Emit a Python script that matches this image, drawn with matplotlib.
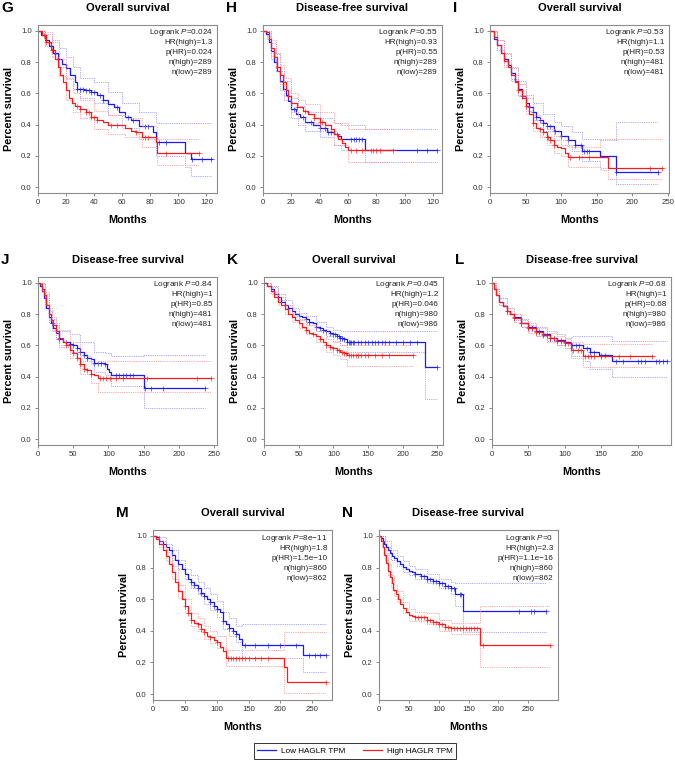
import numpy as np
import matplotlib
matplotlib.use('Agg')
import matplotlib.pyplot as plt
from matplotlib.lines import Line2D

plt.rcParams.update({
    'font.family': 'Liberation Sans',
    'mathtext.fontset': 'custom',
    'mathtext.rm': 'Liberation Sans',
    'mathtext.it': 'Liberation Sans:italic',
})

BLUE = '#1a1aff'
RED = '#ff1a1a'
BLUE_CI = '#8a8aff'
RED_CI = '#ff8a8a'

# ---------------- G : overall survival ----------------
G_low_t = [0, 2, 5, 8, 11, 14, 17, 20, 23, 26, 28, 33, 38, 42, 46, 50, 54, 58, 62, 66, 72, 80, 82, 84, 105, 109, 124]
G_low_s = [1.0, 0.97, 0.94, 0.90, 0.86, 0.82, 0.79, 0.76, 0.72, 0.67, 0.63, 0.62, 0.61, 0.59, 0.56, 0.53, 0.51, 0.48, 0.45, 0.43, 0.39, 0.39, 0.35, 0.29, 0.22, 0.18, 0.18]
G_low_cens = [28, 30, 32, 34, 36, 38, 40, 44, 46, 56, 64, 68, 76, 78, 86, 91, 110, 117, 123]
G_low_ci_t = [0, 5, 10, 15, 20, 25, 30, 40, 50, 60, 72, 84, 105, 109, 124]
G_low_up = [1.0, 0.98, 0.94, 0.89, 0.83, 0.77, 0.70, 0.67, 0.61, 0.54, 0.48, 0.41, 0.41, 0.41, 0.41]
G_low_lo = [1.0, 0.90, 0.85, 0.77, 0.70, 0.63, 0.57, 0.54, 0.46, 0.38, 0.31, 0.20, 0.13, 0.07, 0.07]
G_high_t = [0, 3, 6, 9, 12, 14, 16, 18, 20, 22, 24, 26, 30, 34, 38, 42, 46, 50, 56, 62, 66, 70, 74, 80, 84, 85, 115]
G_high_s = [1.0, 0.97, 0.93, 0.88, 0.82, 0.77, 0.72, 0.67, 0.62, 0.57, 0.54, 0.52, 0.50, 0.48, 0.45, 0.43, 0.42, 0.40, 0.40, 0.38, 0.36, 0.35, 0.32, 0.32, 0.29, 0.22, 0.22]
G_high_cens = [4, 6, 10, 28, 30, 34, 36, 38, 40, 42, 52, 56, 70, 76, 78, 91, 115]
G_high_ci_t = [0, 5, 10, 15, 20, 25, 30, 40, 50, 62, 74, 85, 115]
G_high_up = [1.0, 0.99, 0.93, 0.82, 0.69, 0.60, 0.56, 0.49, 0.46, 0.44, 0.39, 0.31, 0.31]
G_high_lo = [1.0, 0.93, 0.83, 0.71, 0.56, 0.48, 0.44, 0.37, 0.34, 0.32, 0.26, 0.14, 0.14]
G_stats = ['0.024', '1.3', '0.024', '289', '289']

# ---------------- H : disease-free survival ----------------
H_low_t = [0, 2, 4, 6, 8, 10, 12, 14, 16, 18, 20, 23, 26, 30, 35, 40, 45, 50, 53, 55, 72, 123]
H_low_s = [1.0, 0.98, 0.93, 0.87, 0.80, 0.74, 0.68, 0.63, 0.59, 0.55, 0.50, 0.47, 0.45, 0.42, 0.40, 0.38, 0.35, 0.34, 0.33, 0.31, 0.24, 0.24]
H_low_cens = [22, 28, 34, 40, 44, 46, 48, 52, 62, 64, 66, 68, 70, 109, 116, 123]
H_low_ci_t = [0, 3, 6, 9, 12, 15, 20, 25, 30, 40, 50, 55, 72, 123]
H_low_up = [1.0, 1.0, 0.92, 0.86, 0.74, 0.68, 0.57, 0.52, 0.48, 0.44, 0.41, 0.40, 0.37, 0.37]
H_low_lo = [1.0, 0.95, 0.82, 0.74, 0.62, 0.56, 0.44, 0.40, 0.36, 0.32, 0.27, 0.24, 0.16, 0.16]
H_high_t = [0, 2, 4, 6, 8, 10, 12, 14, 16, 18, 20, 24, 28, 32, 36, 40, 44, 48, 50, 53, 56, 58, 60, 92]
H_high_s = [1.0, 0.99, 0.95, 0.89, 0.83, 0.77, 0.72, 0.67, 0.62, 0.58, 0.54, 0.51, 0.49, 0.47, 0.44, 0.42, 0.40, 0.37, 0.34, 0.31, 0.28, 0.26, 0.24, 0.24]
H_high_cens = [10, 14, 18, 24, 30, 36, 40, 42, 62, 66, 70, 76, 78, 80, 83, 92]
H_high_ci_t = [0, 3, 6, 9, 12, 15, 20, 25, 30, 40, 50, 60, 92]
H_high_up = [1.0, 1.0, 0.94, 0.85, 0.78, 0.70, 0.60, 0.56, 0.53, 0.48, 0.41, 0.37, 0.37]
H_high_lo = [1.0, 0.96, 0.84, 0.74, 0.66, 0.58, 0.48, 0.44, 0.41, 0.36, 0.27, 0.16, 0.16]
H_stats = ['0.55', '0.93', '0.55', '289', '289']

# ---------------- I : overall survival ----------------
I_low_t = [0, 5, 10, 15, 20, 25, 30, 35, 40, 45, 50, 55, 60, 65, 70, 75, 80, 90, 100, 110, 120, 130, 155, 177, 236]
I_low_s = [1.0, 0.95, 0.91, 0.86, 0.82, 0.78, 0.73, 0.68, 0.63, 0.58, 0.54, 0.51, 0.48, 0.45, 0.43, 0.41, 0.39, 0.36, 0.33, 0.30, 0.27, 0.23, 0.20, 0.095, 0.095]
I_low_cens = [45, 55, 60, 65, 70, 75, 80, 85, 92, 100, 110, 120, 128, 132, 136, 140, 177, 236]
I_low_ci_t = [0, 10, 20, 30, 40, 50, 60, 75, 90, 100, 115, 130, 155, 177, 236]
I_low_up = [1.0, 0.94, 0.86, 0.77, 0.68, 0.59, 0.54, 0.47, 0.42, 0.39, 0.35, 0.31, 0.30, 0.42, 0.42]
I_low_lo = [1.0, 0.88, 0.78, 0.69, 0.59, 0.49, 0.43, 0.36, 0.30, 0.27, 0.23, 0.17, 0.12, 0.02, 0.02]
I_high_t = [0, 5, 10, 15, 20, 25, 30, 35, 40, 45, 50, 55, 60, 65, 70, 75, 80, 85, 90, 95, 100, 105, 110, 166, 242]
I_high_s = [1.0, 0.96, 0.91, 0.86, 0.81, 0.77, 0.72, 0.67, 0.62, 0.57, 0.52, 0.47, 0.41, 0.38, 0.37, 0.35, 0.32, 0.30, 0.27, 0.26, 0.25, 0.22, 0.19, 0.125, 0.125]
I_high_cens = [40, 50, 60, 70, 75, 80, 82, 85, 90, 112, 125, 140, 225, 242]
I_high_ci_t = [0, 10, 20, 30, 40, 50, 60, 70, 80, 90, 100, 110, 155, 166, 242]
I_high_up = [1.0, 0.94, 0.85, 0.76, 0.66, 0.57, 0.46, 0.42, 0.37, 0.33, 0.30, 0.26, 0.31, 0.31, 0.31]
I_high_lo = [1.0, 0.88, 0.77, 0.68, 0.58, 0.47, 0.36, 0.32, 0.27, 0.22, 0.20, 0.13, 0.11, 0.05, 0.05]
I_stats = ['0.53', '1.1', '0.53', '481', '481']

# ---------------- J : disease-free survival ----------------
J_low_t = [0, 3, 6, 9, 12, 15, 18, 21, 25, 30, 35, 45, 50, 55, 60, 65, 70, 75, 80, 95, 98, 101, 103, 150, 237]
J_low_s = [1.0, 0.98, 0.95, 0.90, 0.84, 0.78, 0.74, 0.71, 0.68, 0.64, 0.62, 0.61, 0.60, 0.58, 0.56, 0.54, 0.52, 0.51, 0.49, 0.48, 0.45, 0.43, 0.41, 0.33, 0.33]
J_low_cens = [20, 30, 40, 45, 50, 55, 60, 65, 70, 80, 85, 90, 95, 110, 115, 120, 125, 130, 135, 152, 160, 178, 237]
J_low_ci_t = [0, 5, 10, 15, 20, 25, 30, 45, 60, 80, 95, 103, 150, 237]
J_low_up = [1.0, 1.0, 0.93, 0.82, 0.77, 0.73, 0.69, 0.67, 0.62, 0.56, 0.55, 0.53, 0.54, 0.54]
J_low_lo = [1.0, 0.94, 0.84, 0.74, 0.69, 0.64, 0.59, 0.56, 0.50, 0.43, 0.41, 0.34, 0.20, 0.20]
J_high_t = [0, 3, 6, 9, 12, 15, 18, 21, 25, 30, 35, 40, 45, 50, 55, 60, 65, 70, 75, 80, 85, 245]
J_high_s = [1.0, 0.99, 0.96, 0.92, 0.86, 0.80, 0.76, 0.73, 0.69, 0.65, 0.62, 0.60, 0.57, 0.55, 0.52, 0.48, 0.45, 0.44, 0.42, 0.41, 0.39, 0.39]
J_high_cens = [30, 40, 50, 55, 60, 65, 70, 75, 88, 92, 96, 102, 110, 120, 155, 225, 245]
J_high_ci_t = [0, 5, 10, 15, 20, 25, 30, 45, 60, 75, 85, 245]
J_high_up = [1.0, 1.0, 0.94, 0.84, 0.78, 0.74, 0.70, 0.62, 0.53, 0.48, 0.50, 0.50]
J_high_lo = [1.0, 0.95, 0.86, 0.76, 0.70, 0.65, 0.60, 0.52, 0.42, 0.36, 0.30, 0.30]
J_stats = ['0.84', '1', '0.85', '481', '481']

# ---------------- K : overall survival ----------------
K_low_t = [0, 5, 10, 15, 20, 25, 30, 35, 40, 45, 50, 55, 60, 65, 70, 75, 80, 85, 90, 95, 100, 105, 110, 115, 120, 232, 249]
K_low_s = [1.0, 0.98, 0.96, 0.93, 0.91, 0.88, 0.86, 0.84, 0.82, 0.80, 0.79, 0.78, 0.77, 0.75, 0.74, 0.72, 0.71, 0.70, 0.69, 0.68, 0.67, 0.66, 0.65, 0.64, 0.62, 0.46, 0.46]
K_low_cens = [60, 65, 75, 80, 85, 90, 95, 100, 102, 105, 108, 110, 112, 115, 120, 122, 124, 126, 128, 130, 135, 140, 145, 150, 155, 160, 165, 170, 175, 180, 190, 200, 210, 220, 249]
K_low_ci_t = [0, 10, 20, 30, 40, 50, 60, 75, 90, 100, 110, 120, 232, 249]
K_low_up = [1.0, 0.98, 0.93, 0.89, 0.84, 0.81, 0.79, 0.75, 0.72, 0.70, 0.69, 0.69, 0.69, 0.69]
K_low_lo = [1.0, 0.94, 0.89, 0.84, 0.79, 0.76, 0.74, 0.69, 0.66, 0.63, 0.60, 0.56, 0.26, 0.26]
K_high_t = [0, 5, 10, 15, 20, 25, 30, 35, 40, 45, 50, 55, 60, 65, 70, 75, 80, 85, 90, 95, 100, 105, 110, 115, 120, 215]
K_high_s = [1.0, 0.98, 0.95, 0.91, 0.88, 0.86, 0.83, 0.80, 0.78, 0.76, 0.74, 0.72, 0.70, 0.68, 0.67, 0.66, 0.64, 0.62, 0.60, 0.59, 0.58, 0.57, 0.56, 0.55, 0.54, 0.54]
K_high_cens = [60, 70, 80, 90, 95, 100, 105, 108, 112, 115, 118, 122, 125, 128, 132, 136, 140, 145, 150, 160, 170, 180, 215]
K_high_ci_t = [0, 10, 20, 30, 40, 50, 60, 75, 90, 100, 110, 120, 215]
K_high_up = [1.0, 0.97, 0.91, 0.86, 0.81, 0.77, 0.73, 0.69, 0.64, 0.62, 0.60, 0.60, 0.60]
K_high_lo = [1.0, 0.93, 0.86, 0.80, 0.75, 0.71, 0.67, 0.62, 0.56, 0.54, 0.51, 0.47, 0.47]
K_stats = ['0.045', '1.2', '0.046', '980', '986']

# ---------------- L : disease-free survival ----------------
L_low_t = [0, 3, 6, 10, 15, 20, 25, 30, 40, 50, 60, 70, 80, 90, 100, 108, 125, 135, 147, 165, 240]
L_low_s = [1.0, 0.96, 0.92, 0.88, 0.85, 0.82, 0.80, 0.78, 0.745, 0.715, 0.69, 0.67, 0.65, 0.635, 0.62, 0.60, 0.58, 0.56, 0.54, 0.50, 0.50]
L_low_cens = [20, 30, 40, 50, 55, 60, 65, 70, 75, 80, 85, 90, 95, 100, 110, 115, 120, 130, 135, 140, 150, 155, 170, 180, 200, 205, 210, 225, 230, 235, 240]
L_low_ci_t = [0, 5, 10, 20, 30, 40, 50, 60, 75, 90, 100, 110, 125, 135, 165, 240]
L_low_up = [1.0, 0.96, 0.90, 0.84, 0.80, 0.77, 0.74, 0.72, 0.69, 0.67, 0.65, 0.66, 0.66, 0.66, 0.63, 0.63]
L_low_lo = [1.0, 0.92, 0.86, 0.80, 0.76, 0.72, 0.69, 0.66, 0.63, 0.60, 0.58, 0.53, 0.50, 0.45, 0.40, 0.40]
L_high_t = [0, 3, 6, 10, 15, 20, 25, 30, 40, 50, 60, 70, 80, 90, 100, 108, 125, 220]
L_high_s = [1.0, 0.96, 0.92, 0.88, 0.85, 0.82, 0.80, 0.775, 0.74, 0.71, 0.685, 0.665, 0.645, 0.63, 0.615, 0.57, 0.535, 0.535]
L_high_cens = [20, 30, 40, 50, 55, 60, 65, 70, 75, 80, 85, 90, 95, 100, 105, 112, 118, 122, 128, 132, 136, 140, 150, 175, 190, 220]
L_high_ci_t = [0, 5, 10, 20, 30, 40, 50, 60, 75, 90, 100, 108, 125, 220]
L_high_up = [1.0, 0.96, 0.90, 0.84, 0.80, 0.76, 0.73, 0.71, 0.68, 0.66, 0.64, 0.62, 0.61, 0.61]
L_high_lo = [1.0, 0.92, 0.86, 0.80, 0.75, 0.72, 0.68, 0.66, 0.62, 0.60, 0.58, 0.52, 0.46, 0.46]
L_stats = ['0.68', '1', '0.68', '980', '986']

# ---------------- M : overall survival ----------------
M_low_t = [0, 5, 10, 15, 20, 25, 30, 35, 40, 45, 50, 55, 60, 65, 70, 75, 80, 85, 90, 95, 100, 105, 110, 115, 120, 125, 130, 135, 140, 235, 272]
M_low_s = [1.0, 0.99, 0.97, 0.95, 0.93, 0.91, 0.88, 0.85, 0.82, 0.79, 0.76, 0.73, 0.71, 0.69, 0.67, 0.64, 0.62, 0.60, 0.58, 0.56, 0.54, 0.52, 0.46, 0.44, 0.42, 0.40, 0.38, 0.35, 0.31, 0.25, 0.25]
M_low_cens = [60, 65, 70, 75, 80, 90, 95, 100, 110, 120, 125, 130, 145, 160, 180, 200, 225, 245, 255, 262, 272]
M_low_ci_t = [0, 10, 20, 30, 40, 50, 60, 70, 80, 90, 100, 110, 120, 130, 140, 235, 272]
M_low_up = [1.0, 0.99, 0.95, 0.91, 0.85, 0.79, 0.75, 0.71, 0.67, 0.63, 0.59, 0.52, 0.48, 0.43, 0.44, 0.44, 0.44]
M_low_lo = [1.0, 0.95, 0.91, 0.85, 0.79, 0.73, 0.67, 0.63, 0.57, 0.53, 0.49, 0.41, 0.37, 0.33, 0.23, 0.14, 0.14]
M_high_t = [0, 5, 10, 15, 20, 25, 30, 35, 40, 45, 50, 55, 60, 65, 70, 75, 80, 85, 90, 95, 100, 105, 110, 115, 205, 210, 271]
M_high_s = [1.0, 0.98, 0.95, 0.91, 0.87, 0.82, 0.77, 0.71, 0.65, 0.60, 0.56, 0.51, 0.47, 0.45, 0.44, 0.41, 0.39, 0.37, 0.36, 0.34, 0.33, 0.30, 0.27, 0.23, 0.17, 0.075, 0.075]
M_high_cens = [50, 55, 60, 70, 75, 80, 90, 100, 118, 122, 126, 130, 135, 140, 145, 150, 160, 170, 180, 271]
M_high_ci_t = [0, 10, 20, 30, 40, 50, 60, 70, 80, 90, 100, 115, 205, 271]
M_high_up = [1.0, 0.97, 0.90, 0.81, 0.69, 0.60, 0.51, 0.48, 0.43, 0.40, 0.37, 0.28, 0.39, 0.39]
M_high_lo = [1.0, 0.93, 0.84, 0.73, 0.61, 0.51, 0.43, 0.40, 0.35, 0.32, 0.29, 0.18, 0.01, 0.01]
M_stats = ['8e\u221211', '1.8', '1.5e\u221210', '860', '862']

# ---------------- N : disease-free survival ----------------
N_low_t = [0, 3, 6, 9, 12, 15, 18, 21, 25, 30, 35, 40, 45, 50, 55, 60, 70, 80, 90, 100, 110, 120, 128, 140, 280]
N_low_s = [1.0, 0.985, 0.97, 0.95, 0.93, 0.91, 0.89, 0.875, 0.86, 0.84, 0.82, 0.805, 0.79, 0.78, 0.77, 0.76, 0.745, 0.73, 0.715, 0.70, 0.685, 0.67, 0.63, 0.525, 0.525]
N_low_cens = [60, 70, 75, 80, 85, 90, 95, 100, 105, 110, 115, 120, 125, 135, 138, 235, 255, 260, 280]
N_low_ci_t = [0, 10, 20, 30, 40, 50, 60, 80, 100, 120, 128, 140, 280]
N_low_up = [1.0, 0.97, 0.91, 0.87, 0.84, 0.81, 0.79, 0.76, 0.73, 0.71, 0.70, 0.70, 0.70]
N_low_lo = [1.0, 0.93, 0.85, 0.81, 0.77, 0.75, 0.73, 0.70, 0.67, 0.63, 0.56, 0.39, 0.39]
N_high_t = [0, 3, 6, 9, 12, 15, 18, 21, 24, 28, 32, 36, 40, 45, 50, 55, 60, 70, 80, 90, 100, 110, 120, 170, 286]
N_high_s = [1.0, 0.97, 0.93, 0.88, 0.83, 0.78, 0.74, 0.70, 0.66, 0.63, 0.60, 0.57, 0.545, 0.52, 0.50, 0.495, 0.49, 0.485, 0.47, 0.455, 0.44, 0.425, 0.415, 0.31, 0.31]
N_high_cens = [60, 65, 70, 75, 80, 85, 90, 95, 100, 105, 110, 115, 120, 125, 130, 135, 140, 145, 150, 155, 160, 165, 175, 286]
N_high_ci_t = [0, 5, 10, 15, 20, 25, 30, 40, 50, 60, 80, 100, 120, 170, 286]
N_high_up = [1.0, 0.97, 0.91, 0.82, 0.75, 0.69, 0.65, 0.58, 0.54, 0.52, 0.51, 0.47, 0.45, 0.56, 0.56]
N_high_lo = [1.0, 0.93, 0.85, 0.75, 0.68, 0.62, 0.58, 0.51, 0.46, 0.46, 0.44, 0.40, 0.38, 0.17, 0.17]
N_stats = ['0', '2.3', '1.1e\u221216', '860', '862']

W, H = 675, 764
AX_W = 179

# letter, title, low group, high group, stats, x max, x ticks, (left px, top px, height px)
panels = [
    ('G', 'Overall survival',
     (G_low_t, G_low_s, G_low_cens, G_low_ci_t, G_low_up, G_low_lo),
     (G_high_t, G_high_s, G_high_cens, G_high_ci_t, G_high_up, G_high_lo),
     G_stats, 127.5, np.arange(0, 121, 20), (38, 25, 168)),
    ('H', 'Disease-free survival',
     (H_low_t, H_low_s, H_low_cens, H_low_ci_t, H_low_up, H_low_lo),
     (H_high_t, H_high_s, H_high_cens, H_high_ci_t, H_high_up, H_high_lo),
     H_stats, 126.5, np.arange(0, 121, 20), (263, 25, 168)),
    ('I', 'Overall survival',
     (I_low_t, I_low_s, I_low_cens, I_low_ci_t, I_low_up, I_low_lo),
     (I_high_t, I_high_s, I_high_cens, I_high_ci_t, I_high_up, I_high_lo),
     I_stats, 252, np.arange(0, 251, 50), (490, 25, 168)),
    ('J', 'Disease-free survival',
     (J_low_t, J_low_s, J_low_cens, J_low_ci_t, J_low_up, J_low_lo),
     (J_high_t, J_high_s, J_high_cens, J_high_ci_t, J_high_up, J_high_lo),
     J_stats, 254, np.arange(0, 251, 50), (38, 277, 168)),
    ('K', 'Overall survival',
     (K_low_t, K_low_s, K_low_cens, K_low_ci_t, K_low_up, K_low_lo),
     (K_high_t, K_high_s, K_high_cens, K_high_ci_t, K_high_up, K_high_lo),
     K_stats, 258, np.arange(0, 251, 50), (264, 277, 168)),
    ('L', 'Disease-free survival',
     (L_low_t, L_low_s, L_low_cens, L_low_ci_t, L_low_up, L_low_lo),
     (L_high_t, L_high_s, L_high_cens, L_high_ci_t, L_high_up, L_high_lo),
     L_stats, 246, np.arange(0, 201, 50), (492, 277, 168)),
    ('M', 'Overall survival',
     (M_low_t, M_low_s, M_low_cens, M_low_ci_t, M_low_up, M_low_lo),
     (M_high_t, M_high_s, M_high_cens, M_high_ci_t, M_high_up, M_high_lo),
     M_stats, 281, np.arange(0, 251, 50), (153, 530, 170)),
    ('N', 'Disease-free survival',
     (N_low_t, N_low_s, N_low_cens, N_low_ci_t, N_low_up, N_low_lo),
     (N_high_t, N_high_s, N_high_cens, N_high_ci_t, N_high_up, N_high_lo),
     N_stats, 300, np.arange(0, 251, 50), (379, 530, 170)),
]


def draw_group(ax, grp, col, ci_col):
    t, s, cens, ci_t, up, lo = grp
    ax.step(ci_t, up, where='post', color=ci_col, lw=0.6, ls=(0, (1, 1.2)))
    ax.step(ci_t, lo, where='post', color=ci_col, lw=0.6, ls=(0, (1, 1.2)))
    ax.step(t, s, where='post', color=col, lw=0.9)
    t = np.asarray(t)
    s = np.asarray(s)
    idx = np.searchsorted(t, cens, side='right') - 1
    ax.plot(cens, s[idx], ls='none', marker='+', ms=3.6, mew=0.6,
            color=col, alpha=0.75)


fig = plt.figure(figsize=(W / 100, H / 100), dpi=100)

for letter, title, low, high, stats, xmax, xticks, (lpx, tpx, hpx) in panels:
    ax = fig.add_axes([lpx / W, 1 - (tpx + hpx) / H, AX_W / W, hpx / H])
    draw_group(ax, low, BLUE, BLUE_CI)
    draw_group(ax, high, RED, RED_CI)
    ax.set_xlim(0, xmax)
    ax.set_ylim(-0.037, 1.037)
    ax.set_xticks(xticks)
    ax.set_yticks([0, 0.2, 0.4, 0.6, 0.8, 1.0])
    ax.set_yticklabels(['0.0', '0.2', '0.4', '0.6', '0.8', '1.0'])
    ax.tick_params(labelsize=5.6, length=2.5, width=0.6, color='#777777',
                   labelcolor='#333333', pad=2)
    for sp in ax.spines.values():
        sp.set_color('#8c8c8c')
        sp.set_linewidth(0.8)

    ax.set_xlabel('Months', fontsize=7.8, fontweight='bold')
    ax.xaxis.set_label_coords(0.5, -27 / hpx)
    ax.xaxis.label.set_va('center')
    ax.set_ylabel('Percent survival', fontsize=7.8, fontweight='bold')
    ax.yaxis.set_label_coords(-29 / AX_W, 0.5)
    ax.yaxis.label.set_va('center')

    fig.text((lpx + AX_W / 2) / W, 1 - (tpx - 17) / H, title,
             fontsize=8, fontweight='bold', ha='center', va='center')
    fig.text((lpx - 37) / W, 1 - (tpx - 17) / H, letter,
             fontsize=11, fontweight='bold', ha='left', va='center')

    lines = [r'Logrank $P$=' + stats[0],
             'HR(high)=' + stats[1],
             'p(HR)=' + stats[2],
             'n(high)=' + stats[3],
             'n(low)=' + stats[4]]
    for i, txt in enumerate(lines):
        ax.text(0.975, 1 - (8 + 10 * i) / hpx, txt, transform=ax.transAxes,
                fontsize=5.9, ha='right', va='center', color='#222222')

handles = [Line2D([], [], color=BLUE, lw=0.9), Line2D([], [], color=RED, lw=0.9)]
leg = fig.legend(handles, ['Low HAGLR TPM', 'High HAGLR TPM'],
                 loc='center', bbox_to_anchor=(355 / W, 1 - 751 / H), ncol=2,
                 fontsize=5.9, frameon=True, fancybox=False, handlelength=2.3,
                 columnspacing=2.2, borderpad=0.45, handletextpad=0.6)
leg.get_frame().set_edgecolor('black')
leg.get_frame().set_linewidth(0.7)

fig.savefig('out.png', dpi=100)
